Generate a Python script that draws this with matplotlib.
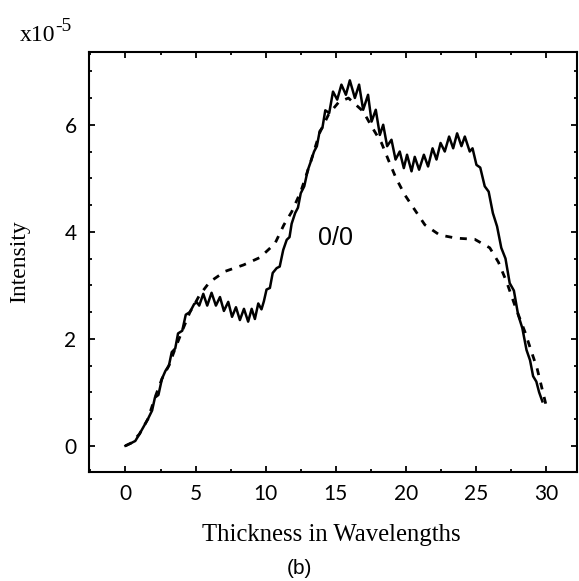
import matplotlib.pyplot as plt
from matplotlib.ticker import MultipleLocator

# solid curve, intensity in units of 1e-5
x_solid = [0, 0.4, 0.7, 1.0, 1.3, 1.6, 1.9, 2.1, 2.35, 2.6, 2.85, 3.1, 3.3, 3.55,
           3.75, 4.05, 4.3, 4.6, 4.9, 5.1,
           5.26, 5.55, 5.83, 6.14, 6.45, 6.74, 7.02, 7.33, 7.6, 7.88, 8.16, 8.45,
           8.75, 9.0, 9.23, 9.47, 9.7, 9.87,
           10.06, 10.3, 10.5, 10.78, 11.0, 11.25, 11.5, 11.7, 11.85, 12.1, 12.3,
           12.5, 12.75, 13.0, 13.2, 13.45, 13.65, 13.85, 14.05, 14.25,
           14.53, 14.8, 15.1, 15.4, 15.72, 16.0, 16.36, 16.66, 16.95, 17.3, 17.55,
           17.85, 18.14, 18.38, 18.66, 18.97, 19.26, 19.56, 19.85, 20.08, 20.4,
           20.63, 20.94, 21.28, 21.58, 21.9, 22.18, 22.47, 22.77, 23.08, 23.37,
           23.65, 23.96, 24.2, 24.55, 24.75,
           25.03, 25.3, 25.62, 25.9, 26.2, 26.5, 26.8, 27.1, 27.4, 27.7, 28.0,
           28.3, 28.6, 28.85, 29.07, 29.3, 29.5, 29.73]
y_solid = [0, 0.05, 0.09, 0.22, 0.36, 0.5, 0.66, 0.9, 0.95, 1.25, 1.4, 1.5, 1.75, 1.82,
           2.1, 2.15, 2.45, 2.5, 2.65, 2.68,
           2.62, 2.84, 2.62, 2.86, 2.62, 2.78, 2.52, 2.69, 2.41, 2.59, 2.35, 2.56,
           2.32, 2.56, 2.37, 2.66, 2.55, 2.7,
           2.92, 2.95, 3.23, 3.32, 3.35, 3.66, 3.85, 3.9, 4.15, 4.35, 4.45,
           4.72, 4.85, 5.15, 5.3, 5.5, 5.6, 5.88, 5.95, 6.27,
           6.22, 6.62, 6.47, 6.75, 6.56, 6.83, 6.5, 6.75, 6.28, 6.56, 6.06,
           6.28, 5.81, 6.0, 5.6, 5.72, 5.35, 5.5, 5.19, 5.44, 5.13,
           5.4, 5.16, 5.44, 5.22, 5.56, 5.35, 5.66, 5.5, 5.78, 5.56,
           5.84, 5.6, 5.78, 5.5, 5.56,
           5.25, 5.2, 4.85, 4.75, 4.35, 4.1, 3.7, 3.5, 3.04, 2.9, 2.45,
           2.2, 1.79, 1.6, 1.3, 1.2, 1.0, 0.83]

# dashed curve
x_dash = [0, 0.4, 1.0, 1.6, 2.1, 2.6, 3.1, 3.55, 4.05, 4.6, 5.0, 5.27, 6.0, 7.1,
          8.42, 9.6, 10.66, 11.3, 11.85, 12.5,
          13.2, 13.85, 14.5, 15.2, 15.9, 16.95, 17.55, 18.26, 18.8, 19.3, 19.92,
          20.63, 21.35, 22.4, 23.6, 24.9, 25.98, 26.6, 27.2, 27.8, 28.5, 28.95,
          29.35, 30.05]
y_dash = [0, 0.05, 0.22, 0.5, 0.9, 1.25, 1.5, 1.82, 2.15, 2.5, 2.68, 2.81, 3.06,
          3.26, 3.38, 3.52, 3.78, 4.13,
          4.37, 4.75, 5.3, 5.85, 6.2, 6.42, 6.5, 6.25, 5.97, 5.66, 5.31, 5.0, 4.69,
          4.41, 4.13, 3.94, 3.88, 3.86, 3.7, 3.43, 3.05, 2.6, 2.12, 1.76,
          1.45, 0.7]

x_ticks = [0, 5, 10, 15, 20, 25, 30]
y_ticks = [0, 2, 4, 6]

fig = plt.figure(figsize=(5.79, 5.81), dpi=100)
ax = fig.add_axes([89 / 579, 1 - 472 / 581, (577 - 89) / 579, (472 - 52) / 581])

ax.plot(x_solid, y_solid, color='black', lw=1.8)
ax.plot(x_dash, y_dash, color='black', lw=2.0, dashes=(2.5, 2.8))

ax.set_xlim(-2.6, 32.2)
ax.set_ylim(-0.49, 7.36)
ax.set_xticks(x_ticks)
ax.set_yticks(y_ticks)
ax.xaxis.set_minor_locator(MultipleLocator(2.5))
ax.yaxis.set_minor_locator(MultipleLocator(0.5))
ax.tick_params(which='both', direction='in', top=True, right=True, width=1.3)
ax.tick_params(which='major', length=4, labelsize=15, pad=9)
ax.tick_params(which='minor', length=2.5)
for lab in ax.get_xticklabels() + ax.get_yticklabels():
    lab.set_family('Lato')
for s in ax.spines.values():
    s.set_linewidth(1.5)

ax.text(15.0, 3.89, '0/0', fontsize=18, family='Liberation Sans', ha='center', va='center')

fig.text(20 / 579, 1 - 41 / 581, 'x10', fontsize=17, family='Liberation Serif',
         ha='left', va='baseline')
fig.text(55 / 579, 1 - 31 / 581, '-5', fontsize=14, family='Liberation Serif',
         ha='left', va='baseline')
fig.text(20 / 579, 1 - 262 / 581, 'Intensity', fontsize=17, family='Liberation Serif',
         rotation=90, ha='center', va='center')
fig.text(331 / 579, 1 - 535 / 581, 'Thickness in Wavelengths', fontsize=17.8,
         family='Liberation Serif', ha='center', va='center')
fig.text(299 / 579, 1 - 569 / 581, '(b)', fontsize=15, family='Liberation Sans',
         ha='center', va='center')

fig.savefig('out.png', dpi=100)
